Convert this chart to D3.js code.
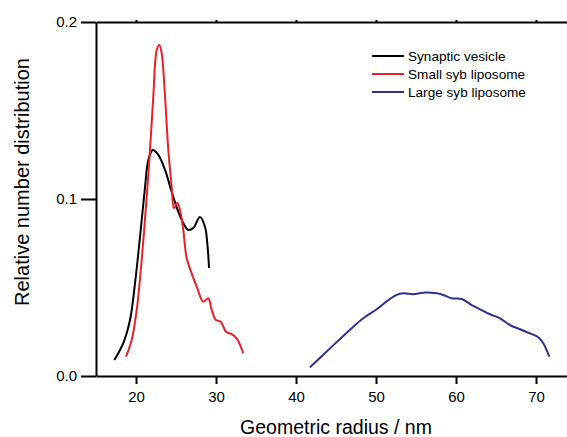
<!DOCTYPE html>
<html>
<head>
<meta charset="utf-8">
<title>Size distribution</title>
<style>
  body { margin: 0; background: #fff; }
  svg text { font-family: "Liberation Sans", Arial, sans-serif; fill: #000; }
</style>
</head>
<body>
<div id="chart"></div>
<script src="https://cdnjs.cloudflare.com/ajax/libs/d3/7.8.5/d3.min.js"></script>
<script>
var seriesNames = ["Synaptic vesicle", "Small syb liposome", "Large syb liposome"];
var seriesColors = ["#000000", "#e8202a", "#2e3192"];

// [radius nm, relative number]
var synapticVesicle = [
  [17.29, 0.009], [18.41, 0.0186], [19.25, 0.0316], [19.88, 0.0525], [20.5, 0.0785],
  [21.13, 0.1068], [21.54, 0.122], [22.09, 0.1277], [22.79, 0.1249], [23.63, 0.1164],
  [24.46, 0.104], [25.29, 0.0927], [25.91, 0.0864], [26.54, 0.0825], [27.16, 0.0836],
  [28.0, 0.0898], [28.63, 0.0842], [28.91, 0.0751], [29.13, 0.061]
];
var smallSyb = [
  [18.75, 0.0109], [19.46, 0.0203], [20.09, 0.0373], [20.71, 0.0655], [21.34, 0.1013],
  [21.75, 0.1277], [22.16, 0.1578], [22.59, 0.1842], [22.91, 0.187], [23.21, 0.1823],
  [23.63, 0.1578], [24.04, 0.1277], [24.46, 0.107], [24.75, 0.0947], [25.16, 0.0979],
  [25.5, 0.0938], [25.91, 0.0825], [26.34, 0.0665], [26.96, 0.058], [27.59, 0.0505],
  [28.41, 0.042], [29.04, 0.0439], [29.46, 0.0373], [30.0, 0.0316], [30.59, 0.0307],
  [31.25, 0.025], [31.96, 0.0237], [32.59, 0.0213], [33.09, 0.0166], [33.41, 0.0128]
];
var largeSyb = [
  [41.75, 0.0049], [44.25, 0.0156], [46.96, 0.027], [48.41, 0.0326], [50.09, 0.0377],
  [51.54, 0.0429], [52.59, 0.0458], [53.41, 0.0467], [54.66, 0.0462], [55.91, 0.0471],
  [57.59, 0.0467], [58.41, 0.0458], [59.46, 0.0439], [60.71, 0.0435], [61.96, 0.0401],
  [63.0, 0.0377], [64.25, 0.0349], [65.5, 0.0326], [66.75, 0.0288], [68.0, 0.0264],
  [69.25, 0.0241], [70.29, 0.0219], [70.91, 0.0185], [71.66, 0.0109]
];
var xTicks = [20, 30, 40, 50, 60, 70];
var yTicks = [0, 0.1, 0.2];

var w = 567, h = 437;
var plotLeft = 96, plotRight = 567, plotTop = 22, plotBottom = 376;

var svg = d3.select("#chart").append("svg")
  .attr("width", w).attr("height", h);

var x = d3.scaleLinear().domain([15, 15 + (plotRight - plotLeft) / 8]).range([plotLeft, plotRight]);
var y = d3.scaleLinear().domain([0, 0.2]).range([plotBottom, plotTop]);

// bottom axis
svg.append("g")
  .attr("transform", "translate(0," + plotBottom + ")")
  .call(d3.axisBottom(x).tickValues(xTicks).tickSize(8).tickPadding(7).tickSizeOuter(0));
// top axis line
svg.append("g")
  .attr("transform", "translate(0," + plotTop + ")")
  .call(d3.axisTop(x).tickValues(xTicks).tickSize(2).tickFormat("").tickSizeOuter(0));
// left axis
svg.append("g")
  .attr("transform", "translate(" + plotLeft + ",0)")
  .call(d3.axisLeft(y).tickValues(yTicks).tickSize(15).tickPadding(4)
    .tickFormat(d3.format(".1f")).tickSizeOuter(0));

svg.selectAll(".domain").attr("stroke-width", 2);
svg.selectAll(".tick line").attr("stroke-width", 2);
svg.selectAll(".tick text").style("font-size", "15px");

svg.append("text")
  .attr("x", 336).attr("y", 434)
  .attr("text-anchor", "middle")
  .style("font-size", "19.5px")
  .text("Geometric radius / nm");

svg.append("text")
  .attr("transform", "translate(29," + 182 + ") rotate(-90)")
  .attr("text-anchor", "middle")
  .style("font-size", "20px")
  .text("Relative number distribution");

var line = d3.line()
  .x(function(d) { return x(d[0]); })
  .y(function(d) { return y(d[1]); })
  .curve(d3.curveCatmullRom);

var allSeries = [synapticVesicle, smallSyb, largeSyb];
svg.selectAll("path.series").data(allSeries).enter().append("path")
  .attr("class", "series")
  .attr("fill", "none")
  .attr("stroke", function(d, i) { return seriesColors[i]; })
  .attr("stroke-width", 2)
  .attr("d", line);

// legend
var legend = svg.append("g").attr("transform", "translate(372,56)");
seriesNames.forEach(function(name, i) {
  var g = legend.append("g").attr("transform", "translate(0," + (i * 18) + ")");
  g.append("line").attr("x1", 0).attr("x2", 32).attr("y1", 0).attr("y2", 0)
    .attr("stroke", seriesColors[i]).attr("stroke-width", 2);
  g.append("text").attr("x", 36).attr("y", 5).style("font-size", "13.6px").text(name);
});
</script>
</body>
</html>
